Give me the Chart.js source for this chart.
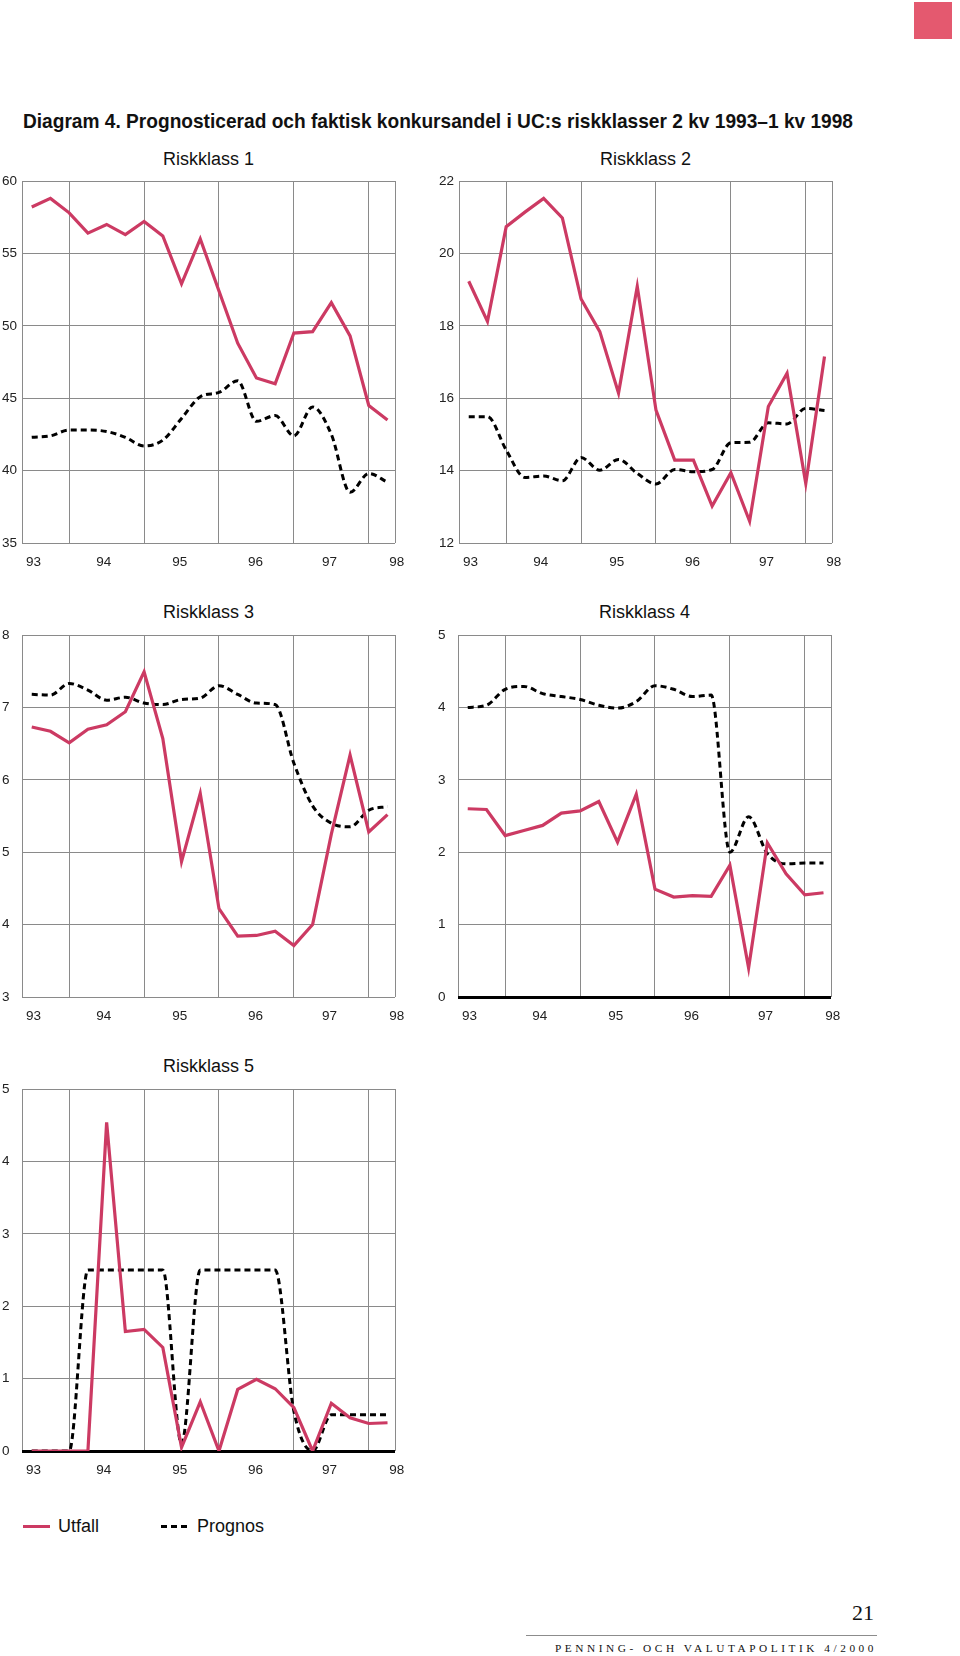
<!DOCTYPE html>
<html lang="sv">
<head>
<meta charset="utf-8">
<title>Diagram 4. Prognosticerad och faktisk konkursandel</title>
<script src="https://cdn.jsdelivr.net/npm/chart.js@4.4.1/dist/chart.umd.min.js"></script>
<style>
  html, body { margin: 0; padding: 0; background: #fff; }
  body { width: 960px; height: 1656px; position: relative; overflow: hidden;
         font-family: "Liberation Sans", Arial, sans-serif; color: #111; }
  .abs { position: absolute; white-space: nowrap; }
  #mark { left: 914px; top: 2px; width: 38px; height: 37px; background: #e4596f; }
  #title { left: 23px; top: 109px; font-size: 21px; line-height: 24px; font-weight: bold;
           font-family: "Liberation Sans Narrow", "Liberation Sans", Arial, sans-serif;
           transform-origin: left center; }
  .ptitle { font-size: 18px; line-height: 20px; width: 373px; text-align: center; }
  canvas.panel { position: absolute; }
  .legtxt { font-size: 18px; line-height: 20px; top: 1516px; }
  #legU { left: 23px; top: 1525px; width: 27px; height: 3px; background: #cc3a63; }
  #legP { left: 161px; top: 1525px; width: 26px; height: 3px;
          background: repeating-linear-gradient(90deg, #000 0 6px, transparent 6px 10px); }
  #pageno { right: 86px; top: 1601px; font-family: "Liberation Serif", serif; font-size: 22px; line-height: 24px; }
  #rule { left: 526px; top: 1635px; width: 351px; height: 1px; background: #8c8c8c; }
  #journal { left: 555px; top: 1643px; font-family: "Liberation Serif", serif; font-size: 10.5px;
             line-height: 12px; letter-spacing: 3.3px; transform-origin: left center; }
</style>
</head>
<body>
<div id="mark" class="abs"></div>
<div id="title" class="abs">Diagram 4. Prognosticerad och faktisk konkursandel i UC:s riskklasser 2 kv 1993–1 kv 1998</div>

<div class="abs ptitle" style="left:22px;top:149px">Riskklass 1</div>
<div class="abs ptitle" style="left:459px;top:149px">Riskklass 2</div>
<div class="abs ptitle" style="left:22px;top:602px">Riskklass 3</div>
<div class="abs ptitle" style="left:458px;top:602px">Riskklass 4</div>
<div class="abs ptitle" style="left:22px;top:1056px">Riskklass 5</div>

<canvas id="rk1" class="panel" width="415" height="407" style="left:0px;top:171px"></canvas>
<canvas id="rk2" class="panel" width="415" height="407" style="left:437px;top:171px"></canvas>
<canvas id="rk3" class="panel" width="415" height="407" style="left:0px;top:625px"></canvas>
<canvas id="rk4" class="panel" width="415" height="407" style="left:436px;top:625px"></canvas>
<canvas id="rk5" class="panel" width="415" height="407" style="left:0px;top:1079px"></canvas>

<div id="legU" class="abs"></div>
<div class="abs legtxt" style="left:58px">Utfall</div>
<div id="legP" class="abs"></div>
<div class="abs legtxt" style="left:197px">Prognos</div>

<div id="pageno" class="abs">21</div>
<div id="rule" class="abs"></div>
<div id="journal" class="abs">PENNING- OCH VALUTAPOLITIK 4/2000</div>

<script>
// ===== DATA =====
// kvartal 2 kv 1993 - 1 kv 1998
const quarters = ["93:2", "93:3", "93:4", "94:1", "94:2", "94:3", "94:4", "95:1", "95:2", "95:3",
                  "95:4", "96:1", "96:2", "96:3", "96:4", "97:1", "97:2", "97:3", "97:4", "98:1"];
const yearLabels = ["93", "94", "95", "96", "97", "98"];
const yearLabelPos = [0.1, 3.85, 7.9, 11.95, 15.9, 19.5];
const yearGridPos = [2, 6, 10, 14, 18];

const utfall1  = [58.2, 58.8, 57.8, 56.4, 57.0, 56.3, 57.2, 56.2, 52.9, 56.0,
                  52.4, 48.8, 46.4, 46.0, 49.5, 49.6, 51.6, 49.3, 44.5, 43.5];
const prognos1 = [42.3, 42.4, 42.8, 42.8, 42.7, 42.3, 41.7, 42.1, 43.6, 45.1,
                  45.4, 46.2, 43.4, 43.8, 42.4, 44.4, 42.5, 38.5, 39.8, 39.2];
const ticks1 = [35, 40, 45, 50, 55, 60];

const utfall2  = [19.23, 18.12, 20.74, 21.14, 21.52, 20.98, 18.74, 17.84, 16.14, 19.09,
                  15.67, 14.29, 14.29, 13.02, 13.94, 12.6, 15.77, 16.69, 13.64, 17.15];
const prognos2 = [15.49, 15.49, 14.57, 13.81, 13.85, 13.72, 14.36, 14.01, 14.31, 13.92,
                  13.63, 14.03, 13.97, 14.03, 14.77, 14.78, 15.32, 15.29, 15.72, 15.66];
const ticks2 = [12, 14, 16, 18, 20, 22];

const utfall3  = [6.73, 6.67, 6.51, 6.70, 6.76, 6.94, 7.49, 6.57, 4.87, 5.81,
                  4.22, 3.84, 3.85, 3.91, 3.71, 4.0, 5.25, 6.34, 5.28, 5.52];
const prognos3 = [7.18, 7.17, 7.33, 7.24, 7.10, 7.14, 7.06, 7.04, 7.11, 7.13,
                  7.30, 7.18, 7.06, 7.04, 6.23, 5.64, 5.40, 5.35, 5.58, 5.63];
const ticks3 = [3, 4, 5, 6, 7, 8];

const utfall4  = [2.60, 2.59, 2.23, 2.30, 2.37, 2.54, 2.57, 2.70, 2.14, 2.80,
                  1.49, 1.38, 1.40, 1.39, 1.82, 0.40, 2.13, 1.70, 1.41, 1.44];
const prognos4 = [4.00, 4.03, 4.25, 4.29, 4.19, 4.15, 4.11, 4.03, 3.99, 4.08,
                  4.30, 4.25, 4.15, 4.17, 2.00, 2.49, 1.98, 1.84, 1.85, 1.85];
const ticks4 = [0, 1, 2, 3, 4, 5];

const utfall5  = [0, 0, 0, 0, 4.54, 1.65, 1.68, 1.43, 0.05, 0.68,
                  0, 0.85, 0.99, 0.86, 0.60, 0, 0.66, 0.46, 0.38, 0.39];
const prognos5 = [0, 0, 0, 2.5, 2.5, 2.5, 2.5, 2.5, 0.1, 2.5,
                  2.5, 2.5, 2.5, 2.5, 0.55, 0, 0.5, 0.5, 0.5, 0.5];
const ticks5 = [0, 1, 2, 3, 4, 5];

// ===== STYLE =====
const PINK = "#cc3a63";
const GRID = "#8a8a8a";
const TICK = "#222";
const X_MIN = -0.52, X_MAX = 19.4;
const tickFont = { family: "'Liberation Sans', Arial, sans-serif", size: 13.5 };

const toPoints = vals => vals.map((v, i) => ({ x: i, y: v }));

function drawPanel(id, utfall, prognos, yTicks, boldZero) {
  return new Chart(document.getElementById(id), {
    type: "line",
    data: {
      datasets: [
        { label: "Utfall", data: toPoints(utfall), borderColor: PINK, borderWidth: 3.2,
          pointRadius: 0, tension: 0, xAxisID: "x", yAxisID: "y" },
        { label: "Prognos", data: toPoints(prognos), borderColor: "#000", borderWidth: 3,
          borderDash: [6, 4], pointRadius: 0, cubicInterpolationMode: "monotone",
          xAxisID: "x", yAxisID: "y" }
      ]
    },
    options: {
      responsive: false,
      animation: false,
      events: [],
      layout: { padding: { left: 2, top: 10, right: 20, bottom: 0 } },
      plugins: { legend: { display: false }, tooltip: { enabled: false }, title: { display: false } },
      scales: {
        // grid only: quarter 4 lines + frame
        x: {
          type: "linear", position: "top", min: X_MIN, max: X_MAX,
          afterBuildTicks: s => { s.ticks = [X_MIN, ...yearGridPos, X_MAX].map(v => ({ value: v })); },
          afterFit: s => { s.height = 0; s.paddingLeft = 0; s.paddingRight = 0; },
          ticks: { display: false },
          grid: { color: GRID, lineWidth: 1, drawTicks: false },
          border: { display: false }
        },
        // year labels, centred between grid lines
        xl: {
          type: "linear", position: "bottom", min: X_MIN, max: X_MAX,
          afterBuildTicks: s => { s.ticks = yearLabelPos.map(v => ({ value: v })); },
          afterFit: s => { s.height = 35; s.paddingLeft = 0; s.paddingRight = 0; },
          ticks: { autoSkip: false, maxRotation: 0, padding: 11, color: TICK, font: tickFont,
                   callback: (v, i) => yearLabels[i] },
          grid: { display: false, drawTicks: false },
          border: { display: false }
        },
        y: {
          min: yTicks[0], max: yTicks[yTicks.length - 1],
          afterBuildTicks: s => { s.ticks = yTicks.map(v => ({ value: v })); },
          afterFit: s => { s.width = 20; s.paddingTop = 0; s.paddingBottom = 0; },
          ticks: { crossAlign: "far", padding: 0, color: TICK, font: tickFont },
          grid: {
            drawTicks: false,
            color: c => (boldZero && c.tick && c.tick.value === 0) ? "#000" : GRID,
            lineWidth: c => (boldZero && c.tick && c.tick.value === 0) ? 3 : 1
          },
          border: { display: false }
        }
      }
    }
  });
}

drawPanel("rk1", utfall1, prognos1, ticks1, false);
drawPanel("rk2", utfall2, prognos2, ticks2, false);
drawPanel("rk3", utfall3, prognos3, ticks3, false);
drawPanel("rk4", utfall4, prognos4, ticks4, true);
drawPanel("rk5", utfall5, prognos5, ticks5, true);

// fit the long header lines to the width they have in the original
function fitWidth(el, target) {
  const w = el.getBoundingClientRect().width;
  if (w > 0) el.style.transform = "scaleX(" + (target / w) + ")";
}
fitWidth(document.getElementById("title"), 830);
fitWidth(document.getElementById("journal"), 322);
</script>
</body>
</html>
